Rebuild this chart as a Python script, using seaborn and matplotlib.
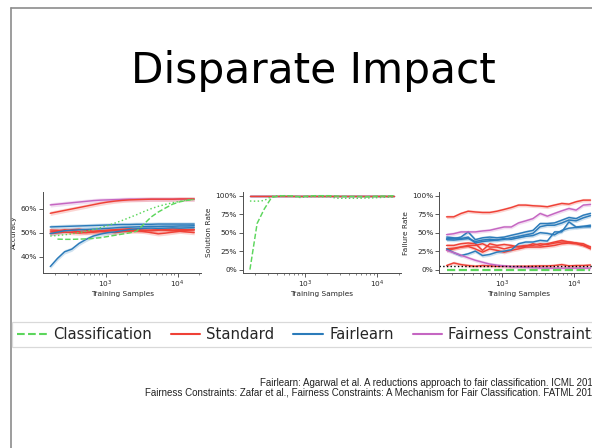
import numpy as np
import matplotlib
matplotlib.use("Agg")
import matplotlib.pyplot as plt
import seaborn as sns
from matplotlib.lines import Line2D
from matplotlib.ticker import PercentFormatter, FixedLocator

# ---------------------------------------------------------------- data
samples = [170, 214, 269, 339, 427, 537, 676, 851, 1072, 1349, 1698,
           2138, 2692, 3388, 4266, 5370, 6761, 8511, 10715, 13490, 16982]

# Accuracy (%)
acc_class_dashed = [np.nan, 47.3, 47.2, 47.2, 47.3, 47.4, 47.6, 47.9, 48.4, 48.9, 49.4,
                    49.9, 50.6, 53.5, 56.5, 58.6, 60.3, 61.9, 62.9, 63.5, 63.9]
acc_class_dotted = [48.6, 48.8, 49.1, 49.5, 50.0, 50.6, 51.3, 52.1, 53.0, 54.0, 55.1,
                    56.3, 57.5, 58.8, 60.0, 61.0, 61.8, 62.5, 63.1, 63.6, 63.9]
acc_standard = [
    [58.1, 58.7, 59.3, 59.9, 60.5, 61.1, 61.7, 62.3, 62.8, 63.2, 63.5,
     63.7, 63.8, 63.9, 64.0, 64.0, 64.0, 64.0, 64.1, 64.1, 64.1],
    [51.1, 51.0, 50.8, 51.2, 51.4, 51.0, 50.6, 50.8, 51.0, 51.2, 51.4,
     51.6, 51.3, 51.0, 50.8, 51.0, 51.3, 51.5, 51.4, 51.2, 51.3],
    [50.3, 50.6, 51.2, 50.7, 50.4, 50.0, 50.2, 50.5, 50.3, 50.0, 50.4,
     50.6, 50.8, 50.5, 50.0, 49.5, 49.8, 50.2, 50.6, 50.3, 50.0],
    [49.6, 49.9, 50.2, 50.0, 49.8, 50.1, 50.4, 50.6, 50.9, 51.0, 51.2,
     51.0, 50.8, 50.9, 51.1, 51.2, 51.0, 50.8, 50.9, 51.0, 51.1],
]
acc_fairlearn = [
    [52.4, 52.5, 52.6, 52.7, 52.8, 52.9, 53.0, 53.1, 53.2, 53.3, 53.4,
     53.4, 53.5, 53.5, 53.5, 53.6, 53.6, 53.6, 53.6, 53.6, 53.6],
    [49.6, 50.2, 50.8, 51.0, 51.2, 51.3, 51.5, 51.6, 51.8, 52.0, 52.2,
     52.3, 52.4, 52.5, 52.6, 52.6, 52.7, 52.7, 52.8, 52.8, 52.9],
    [35.8, 39.2, 42.0, 43.1, 45.5, 47.2, 48.6, 49.4, 50.0, 50.3, 50.8,
     51.3, 51.6, 51.8, 51.9, 51.8, 51.9, 52.0, 51.9, 52.0, 52.1],
]
acc_constraints = [
    [61.6, 61.9, 62.2, 62.5, 62.8, 63.1, 63.4, 63.6, 63.7, 63.8, 63.9,
     64.0, 64.0, 64.0, 64.0, 64.0, 64.0, 64.0, 64.0, 64.0, 64.0],
]

# Solution rate (%)
sol_class_dashed = [0.0, 62.5, 82.0, 97.5, 99.6, 100, 99.5, 98.5, 99.5, 100, 100,
                    100, 99.5, 99.0, 99.0, 99.0, 98.5, 99.0, 99.5, 99.5, 100]
sol_class_dotted = [92.8, 92.5, 93.5, 99.0, 100, 100, 99.5, 97.5, 98.5, 99.0, 98.5,
                    99.0, 96.5, 96.5, 96.5, 96.5, 96.8, 97.0, 97.5, 98.0, 98.0]
sol_others = [100.0] * 21

# Failure rate (%)
fail_class = [0.0] * 21
fail_standard = [
    [71.4, 71.4, 75.9, 79.0, 78.0, 77.3, 77.3, 79.0, 81.4, 84.0, 87.3,
     87.3, 86.4, 85.9, 85.0, 87.3, 89.5, 88.6, 91.8, 94.0, 94.0],
    [32.7, 32.7, 35.0, 36.0, 35.0, 26.0, 35.0, 32.7, 34.0, 32.7, 30.5,
     31.4, 35.0, 32.7, 35.0, 37.3, 39.5, 37.3, 36.0, 35.0, 30.5],
    [28.0, 29.0, 30.5, 32.7, 32.7, 35.0, 30.5, 30.5, 28.0, 30.5, 31.4,
     32.7, 32.7, 35.0, 34.0, 35.9, 37.3, 37.3, 36.0, 32.7, 30.5],
    [26.0, 28.0, 30.5, 31.4, 28.0, 23.6, 28.0, 26.0, 23.6, 26.0, 28.0,
     30.5, 30.5, 30.5, 31.4, 32.7, 35.0, 35.9, 35.0, 32.7, 28.0],
    [5.5, 9.0, 6.8, 5.5, 4.5, 5.5, 5.0, 4.5, 4.5, 4.2, 4.5,
     4.5, 4.8, 5.0, 5.0, 5.5, 6.8, 5.0, 5.5, 5.5, 6.2],
]
fail_fairlearn = [
    [41.8, 41.8, 44.0, 51.0, 40.5, 43.0, 44.0, 43.0, 44.0, 46.4, 48.6,
     51.0, 53.0, 62.3, 62.3, 63.2, 66.8, 70.5, 69.0, 73.6, 76.0],
    [40.5, 40.0, 41.0, 42.0, 38.0, 40.0, 41.0, 40.0, 41.0, 43.0, 45.0,
     47.0, 49.0, 58.0, 60.0, 60.0, 63.0, 67.0, 66.0, 70.0, 73.0],
    [44.0, 43.0, 42.0, 44.0, 36.0, 38.0, 39.0, 40.0, 42.0, 41.0, 43.0,
     45.0, 46.0, 50.0, 49.0, 47.0, 53.0, 56.0, 57.0, 58.0, 58.0],
    [28.0, 23.0, 19.0, 21.4, 25.0, 19.0, 20.5, 23.6, 25.0, 26.8, 35.0,
     37.3, 37.3, 39.5, 38.6, 51.0, 51.0, 64.5, 57.7, 58.6, 60.0],
]
fail_constraints = [
    [47.3, 48.6, 51.0, 51.0, 51.0, 52.3, 53.2, 55.5, 57.7, 57.7, 63.2,
     66.0, 69.0, 76.0, 72.3, 76.0, 79.5, 82.7, 80.5, 87.3, 88.2],
    [26.0, 23.0, 19.5, 16.0, 12.6, 10.0, 7.5, 6.0, 5.0, 4.0, 3.5,
     3.0, 2.5, 2.2, 2.0, 2.0, 2.0, 2.0, 2.0, 2.0, 2.0],
]
failure_threshold = 5.0

legend_labels = ["Classification", "Standard", "Fairlearn", "Fairness Constraints"]
ylabels = ["Accuracy", "Solution Rate", "Failure Rate"]
title = "Disparate Impact"
citations = [
    "Fairlearn: Agarwal et al. A reductions approach to fair classification. ICML 2018",
    "Fairness Constraints: Zafar et al., Fairness Constraints: A Mechanism for Fair Classification. FATML 2015",
]

# ---------------------------------------------------------------- style
GREEN = "#5cd65c"
RED = "#ef4136"
BLUE = "#2b7bba"
PURPLE = "#c566c2"

sns.set_style("ticks")
plt.rcParams["font.family"] = ["DejaVu Sans"]

W, H = 592, 448
fig = plt.figure(figsize=(W / 100, H / 100), dpi=100)
fig.patch.set_facecolor("white")


def px(x, y):
    return x / W, 1 - y / H


def draw(ax, ys, color, ls="-", band=0.0, lw=1.05, alpha=1.0):
    ys = np.asarray(ys, dtype=float)
    sns.lineplot(x=samples, y=ys, ax=ax, color=color, linestyle=ls,
                 lw=lw, errorbar=None, alpha=alpha)
    if band > 0:
        ax.fill_between(samples, ys - band, ys + band, color=color,
                        alpha=0.22, lw=0)


ax_w = 158.4
ax_top, ax_bot = 192.0, 273.3
lefts = [43.0, 242.7, 439.3]
axes = []
for left in lefts:
    x0, y0 = px(left, ax_bot)
    ax = fig.add_axes([x0, y0, ax_w / W, (ax_bot - ax_top) / H])
    axes.append(ax)

# accuracy
ax = axes[0]
for ys in acc_standard[1:]:
    draw(ax, ys, RED, band=0.9)
for ys in acc_fairlearn:
    draw(ax, ys, BLUE, band=0.9)
for ys in acc_constraints:
    draw(ax, ys, PURPLE, band=0.9)
draw(ax, acc_standard[0], RED, band=0.9)
draw(ax, acc_class_dashed, GREEN, ls="--")
draw(ax, acc_class_dotted, GREEN, ls=":")
ax.set_ylim(33, 67)
ax.yaxis.set_major_locator(FixedLocator([40, 50, 60]))

# solution rate
ax = axes[1]
draw(ax, sol_others, PURPLE)
draw(ax, sol_others, BLUE)
draw(ax, sol_others, RED, band=1.5)
draw(ax, sol_class_dotted, GREEN, ls=":")
draw(ax, sol_class_dashed, GREEN, ls="--")
ax.set_ylim(-5, 105)
ax.yaxis.set_major_locator(FixedLocator([0, 25, 50, 75, 100]))

# failure rate
ax = axes[2]
for ys in fail_standard:
    draw(ax, ys, RED, band=2.4)
for ys in fail_fairlearn:
    draw(ax, ys, BLUE, band=2.4)
for ys in fail_constraints:
    draw(ax, ys, PURPLE, band=2.4)
ax.axhline(failure_threshold, color="black", ls=":", lw=1.0)
draw(ax, fail_class, GREEN, ls="--", lw=1.6)
ax.set_ylim(-5, 105)
ax.yaxis.set_major_locator(FixedLocator([0, 25, 50, 75, 100]))

for ax, lab in zip(axes, ylabels):
    ax.set_xscale("log")
    ax.set_xlim(10 ** 2.13, 10 ** 4.33)
    ax.yaxis.set_major_formatter(PercentFormatter(decimals=0))
    ax.set_xlabel("Training Samples", fontsize=5.3, labelpad=0.5, color="0.15")
    ax.set_ylabel(lab, fontsize=5.3, labelpad=2.5, color="0.15")
    ax.tick_params(which="major", length=3, width=0.6, pad=1.2,
                   labelsize=5.3, colors="0.25", labelcolor="0.15")
    ax.tick_params(which="minor", length=1.7, width=0.45, colors="0.25")
    for s in ("left", "bottom"):
        ax.spines[s].set_linewidth(0.7)
        ax.spines[s].set_color("0.3")
    sns.despine(ax=ax)

# slide frame
fig.add_artist(Line2D([10.6 / W, 10.6 / W], [0, 1 - 7.6 / H],
                      transform=fig.transFigure, color="#8c8c8c", lw=1.2))
fig.add_artist(Line2D([10.6 / W, 1], [1 - 7.6 / H, 1 - 7.6 / H],
                      transform=fig.transFigure, color="#8c8c8c", lw=1.2))

# title
tx, ty = px(313.4, 82.7)
fig.text(tx, ty, title, ha="center", va="baseline", fontsize=30.4, color="black")

# legend
handles = [Line2D([], [], color=GREEN, ls="--", lw=1.5),
           Line2D([], [], color=RED, lw=1.5),
           Line2D([], [], color=BLUE, lw=1.5),
           Line2D([], [], color=PURPLE, lw=1.5)]
lx, ly = px(12.0, 322.0)
leg = fig.legend(handles, legend_labels, ncol=4, loc="upper left",
                 bbox_to_anchor=(lx, ly), borderaxespad=0, fontsize=10.7,
                 handlelength=2.0, handletextpad=0.4, columnspacing=1.28,
                 borderpad=0.35, frameon=True, fancybox=False)
leg.get_frame().set_edgecolor("#d0d0d0")
leg.get_frame().set_linewidth(0.9)

# references
for text, base in zip(citations, [386.0, 395.0]):
    cx, cy = px(598.0, base)
    fig.text(cx, cy, text, ha="right", va="baseline", fontsize=7.0,
             family=["Liberation Sans", "DejaVu Sans"], color="#222222")

fig.savefig("out.png", dpi=100, facecolor="white")
